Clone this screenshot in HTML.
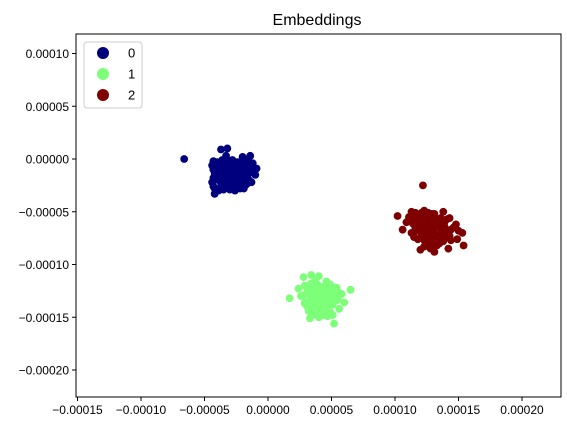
<!DOCTYPE html>
<html><head><meta charset="utf-8"><style>
body{margin:0;background:#fff;}
svg text{font-family:"Liberation Sans","DejaVu Sans",sans-serif;}
</style></head><body>
<svg id="chart" width="567" height="433" viewBox="0 0 567 433" xmlns="http://www.w3.org/2000/svg">
<rect width="567" height="433" fill="#fff"/>
<text x="317" y="25" font-size="16" text-anchor="middle">Embeddings</text>
<g id="marks"></g>
<g id="axes"></g>
</svg>
<script>
// values in units of 1e-5
const xTicks = [-15,-10,-5,0,5,10,15,20];
const xTickLabels = ["\u22120.00015","\u22120.00010","\u22120.00005","0.00000","0.00005","0.00010","0.00015","0.00020"];
const yTicks = [10,5,0,-5,-10,-15,-20];
const yTickLabels = ["0.00010","0.00005","0.00000","\u22120.00005","\u22120.00010","\u22120.00015","\u22120.00020"];
const classLabels = ["0","1","2"];
const classColors = ["#00007f","#7dff7a","#7f0000"];
const blueX = [-6.6,-3.7,-3.2,-1.4,-4.3,-4.4,-4.3,-4.2,-4.0,-3.6,-3.2,-2.8,-2.4,-2.0,-1.6,-1.2,-0.9,-4.3,-4.0,-3.6,-3.2,-2.8,-2.4,-2.0,-1.6,-1.2,-4.4,-4.0,-3.6,-3.2,-2.8,-2.4,-2.0,-1.6,-1.1,-4.3,-3.9,-3.5,-3.1,-2.7,-2.3,-1.9,-1.5,-4.2,-3.7,-3.3,-2.9,-2.5,-2.1,-1.7,-4.2,-3.0,-2.2,-1.9,-3.5,-2.6,-1.3,-4.3,-3.3,
 -3.8,-3.4,-3.0,-2.6,-2.2,-1.8,-1.4,-3.8,-3.4,-3.0,-2.6,-2.2,-1.8,-1.4,-3.8,-3.4,-3.0,-2.6,-2.2,-1.8,-3.7,-3.1,-2.5,-1.9,-4.1,-1.0,-3.9,-2.0];
const blueY = [0.0,0.9,1.0,0.3,-0.2,-0.6,-1.0,-1.4,-0.3,-0.1,-0.2,-0.1,-0.3,-0.2,-0.1,-0.4,-0.9,-1.8,-0.8,-0.7,-0.9,-0.8,-0.7,-0.9,-0.8,-0.7,-2.2,-1.4,-1.5,-1.3,-1.4,-1.6,-1.4,-1.5,-1.3,-2.6,-2.0,-2.1,-1.9,-2.1,-2.0,-2.2,-2.0,-2.8,-2.6,-2.7,-2.5,-2.7,-2.6,-2.4,-3.3,-2.9,-2.8,-2.8,-2.9,-3.0,-2.2,-1.0,0.3,
 -0.5,-0.4,-0.5,-0.4,-0.5,-0.5,-0.6,-1.1,-1.1,-1.1,-1.1,-1.1,-1.1,-1.1,-1.8,-1.7,-1.7,-1.8,-1.7,-1.8,-2.3,-2.3,-2.3,-2.4,-1.2,-1.5,-3.0,0.2];
const greenX = [1.7,2.8,3.4,4.0,2.4,2.9,3.4,3.9,4.4,4.9,5.4,5.8,2.6,3.1,3.6,4.1,4.6,5.1,5.6,6.5,2.9,3.4,3.9,4.4,4.9,5.4,6.0,3.1,3.6,4.1,4.6,5.1,5.6,3.4,3.9,4.4,4.9,3.2,5.1,3.3,4.0,4.7,5.2,2.9,3.7,4.6,
 3.1,3.6,4.1,4.6,5.1,2.8,3.3,3.8,4.3,4.8,5.3,3.0,3.5,4.0,4.5,5.0,5.5,3.6,4.1,4.6,3.8,4.3];
const greenY = [-13.2,-11.2,-11.0,-11.1,-12.3,-12.0,-11.8,-11.9,-12.1,-11.9,-12.2,-12.8,-13.0,-12.7,-12.6,-12.5,-12.6,-12.4,-12.7,-12.4,-13.6,-13.3,-13.2,-13.3,-13.1,-13.4,-13.6,-14.0,-14.1,-13.9,-14.0,-13.8,-14.2,-14.6,-14.4,-14.7,-14.5,-14.4,-14.8,-15.1,-15.0,-14.9,-15.6,-13.7,-11.5,-11.6,
 -12.3,-12.2,-12.2,-12.3,-12.2,-12.9,-12.9,-12.9,-12.9,-12.9,-13.0,-13.6,-13.6,-13.6,-13.6,-13.6,-13.3,-14.3,-14.2,-14.3,-14.8,-14.8];
const redX = [12.2,10.2,11.3,12.3,12.9,13.8,14.3,14.8,11.1,11.6,12.1,12.6,13.1,13.6,14.1,14.6,15.3,10.9,11.4,11.9,12.4,12.9,13.4,13.9,14.4,15.0,10.6,11.3,11.8,12.3,12.8,13.3,13.8,14.3,14.9,11.8,12.3,12.8,13.3,13.8,14.4,12.3,12.8,13.3,14.2,15.4,12.0,13.1,11.5,
 11.6,12.1,12.6,13.1,11.4,11.9,12.4,12.9,13.4,13.9,11.6,12.1,12.6,13.1,13.6,14.1,12.1,12.6,13.1,13.6,14.1,12.5,13.0,13.5];
const redY = [-2.5,-5.4,-5.0,-4.9,-5.2,-5.0,-5.6,-6.2,-5.5,-5.4,-5.6,-5.5,-5.7,-5.6,-5.7,-6.5,-7.0,-6.0,-6.1,-6.0,-6.2,-6.1,-6.3,-6.4,-6.7,-6.8,-6.7,-7.0,-6.8,-7.1,-6.9,-7.2,-7.0,-7.3,-7.6,-7.6,-7.7,-7.9,-7.5,-7.8,-7.7,-8.3,-8.5,-8.2,-8.5,-8.2,-8.6,-8.8,-7.4,
 -5.1,-5.1,-5.1,-5.2,-5.8,-5.8,-5.8,-5.9,-5.9,-6.0,-6.5,-6.5,-6.6,-6.6,-6.6,-6.9,-7.3,-7.4,-7.3,-7.4,-7.4,-8.0,-8.1,-8.0];
const seriesX = [blueX, greenX, redX];
const seriesY = [blueY, greenY, redY];

const NS = "http://www.w3.org/2000/svg";
const L = 76, R = 561, T = 34, B = 397;
function sx(v){ return 268 + v * 12.7; }
function sy(v){ return 159 - v * 10.55; }
const marks = document.getElementById('marks');
const axes = document.getElementById('axes');
function mk(tag, attrs, parent){
  const e = document.createElementNS(NS, tag);
  for (const k in attrs) e.setAttribute(k, attrs[k]);
  parent.appendChild(e);
  return e;
}
seriesX.forEach((xs, s) => {
  xs.forEach((xv, i) => {
    const c = mk('circle', {cx: sx(xv), cy: sy(seriesY[s][i]), r: 3.9, fill: classColors[s]}, marks);
    
    
  });
});
const frame = mk('rect', {x: L, y: T, width: R - L, height: B - T, fill: 'none', stroke: '#000', 'stroke-width': 1}, axes);


xTicks.forEach((v, i) => {
  const x = sx(v);
  mk('line', {x1: x, x2: x, y1: B, y2: B + 4, stroke: '#000'}, axes);
  const t = mk('text', {x: x, y: B + 17, 'font-size': 12, 'text-anchor': 'middle'}, axes);
  t.textContent = xTickLabels[i];
  
  
});
yTicks.forEach((v, i) => {
  const y = sy(v);
  mk('line', {x1: L - 4, x2: L, y1: y, y2: y, stroke: '#000'}, axes);
  const t = mk('text', {x: L - 7, y: y + 4.5, 'font-size': 12, 'text-anchor': 'end'}, axes);
  t.textContent = yTickLabels[i];
  
  
});
const lg = mk('g', {}, axes);


mk('rect', {x: 84, y: 42, width: 58, height: 66, rx: 3, fill: '#fff', stroke: '#ccc'}, lg);
classLabels.forEach((lab, i) => {
  const y = 53 + i * 21;
  const g = mk('g', {}, lg);
  
  
  mk('circle', {cx: 103, cy: y, r: 6, fill: classColors[i]}, g);
  const t = mk('text', {x: 128, y: y + 4.5, 'font-size': 13}, g);
  t.textContent = lab;
});
</script>
</body></html>
